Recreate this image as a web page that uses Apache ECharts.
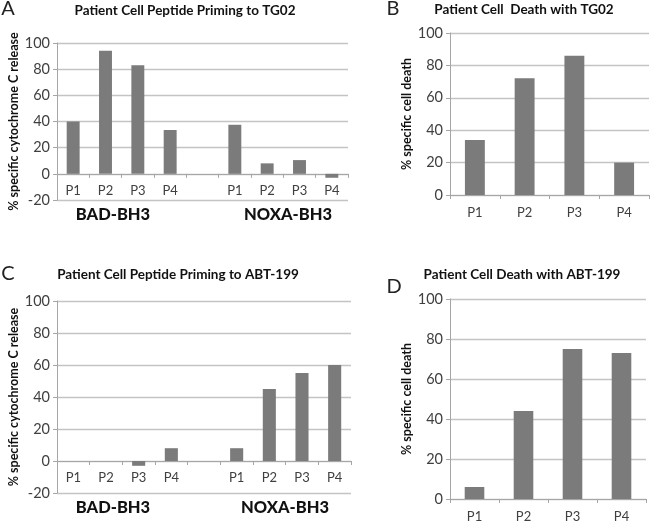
<!DOCTYPE html>
<html><head><meta charset="utf-8">
<script src="https://cdn.jsdelivr.net/npm/echarts@6/dist/echarts.min.js"></script>
<style>html,body{margin:0;padding:0;background:#fff}#c{width:650px;height:528px}</style>
</head><body><div id="c"></div>
<script>
// ---- data ----
const groupedCats = ['P1','P2','P3','P4','','P1','P2','P3','P4'];
const patientCats = ['P1','P2','P3','P4'];
const peptideGroups = ['BAD-BH3','NOXA-BH3'];
const primingTicks = [-20,0,20,40,60,80,100];
const deathTicks = [0,20,40,60,80,100];
const primingTG02 = [40,94,83,33.5,null,37.5,8,10.5,-3];
const deathTG02 = [34,72,86,20];
const primingABT = [0,0,-3,8,null,8,45,55,60];
const deathABT = [6,44,75,73];
const panelTitles = ['Patient Cell Peptide Priming to TG02','Patient Cell  Death with TG02','Patient Cell Peptide Priming to ABT-199','Patient Cell Death with ABT-199'];
const panelLetters = ['A','B','C','D'];
const yNames = ['% specific cytochrome C release','% specific cell death'];

// ---- style ----
const FONT = 'Lato, "Open Sans", sans-serif';
const BAR = '#7b7b7b';
const AXIS = '#a6a6a6';
const GRIDC = '#c4c4c4';
const TXT = '#404040';

function yAx(gi, ticks, name, gap){
  return {
    type:'value', gridIndex:gi, min:ticks[0], max:ticks[ticks.length-1], interval:20,
    name:name, nameLocation:'middle', nameGap:gap,
    nameTextStyle:{fontFamily:FONT, fontWeight:'bold', fontSize:12.5, color:'#111'},
    axisLine:{show:true, lineStyle:{color:AXIS, width:1}},
    axisTick:{show:true, length:4, lineStyle:{color:AXIS}},
    axisLabel:{fontFamily:FONT, fontSize:14.5, color:TXT, margin:7},
    splitLine:{show:true, lineStyle:{color:GRIDC, width:1.3}}
  };
}
function xAx(gi, cats, margin){
  return {
    type:'category', gridIndex:gi, data:cats, boundaryGap:true, position:'bottom', offset:0,
    axisLine:{show:true, onZero:false, lineStyle:{color:AXIS, width:1}},
    axisTick:{show:true, length:4, interval:0, lineStyle:{color:AXIS}},
    axisLabel:{fontFamily:FONT, fontSize:13, color:TXT, margin:margin, interval:0}
  };
}
function bars(i, data){
  return {type:'bar', xAxisIndex:i, yAxisIndex:i, data:data, barWidth:'40%',
    itemStyle:{color:BAR}, silent:true, animation:false};
}
function txt(x,y,t,size,weight,color){
  return {type:'text', x:x, y:y, style:{text:t, fontFamily:FONT, fontSize:size, fontWeight:weight,
    fill:color||'#111', textAlign:'center', textVerticalAlign:'middle'}};
}

const chart = echarts.init(document.getElementById('c'), null, {renderer:'canvas'});
const xAxes = [xAx(0,groupedCats,10), xAx(1,patientCats,11), xAx(2,groupedCats,10), xAx(3,patientCats,11)];
chart.setOption({
  animation:false,
  grid:[
    {left:57, top:43, right:302, bottom:328},
    {left:450, top:33, right:1, bottom:333},
    {left:57, top:301, right:299, bottom:35},
    {left:450, top:299, right:4, bottom:29}
  ],
  xAxis:xAxes,
  yAxis:[yAx(0,primingTicks,yNames[0],30), yAx(1,deathTicks,yNames[1],32), yAx(2,primingTicks,yNames[0],30), yAx(3,deathTicks,yNames[1],32)],
  series:[bars(0,primingTG02), bars(1,deathTG02), bars(2,primingABT), bars(3,deathABT)],
  graphic:[
    txt(185,11,panelTitles[0],13.5,'bold'),
    txt(524,10,panelTitles[1],13.5,'bold'),
    txt(178,275,panelTitles[2],13.5,'bold'),
    txt(522,275,panelTitles[3],13.5,'bold'),
    txt(8,9,panelLetters[0],20,'normal','#222'),
    txt(393,9,panelLetters[1],20,'normal','#222'),
    txt(8,274,panelLetters[2],20,'normal','#222'),
    txt(394,287,panelLetters[3],20,'normal','#222'),
    txt(113,215,peptideGroups[0],16.5,'900'),
    txt(288,215,peptideGroups[1],16.5,'900'),
    txt(113,508,peptideGroups[0],16.5,'900'),
    txt(285,508,peptideGroups[1],16.5,'900')
  ]
});
// move the category axes of the priming panels up to the value 0 line
[0,2].forEach(function(i){
  const zeroY = chart.convertToPixel({yAxisIndex:i}, 0);
  const minY = chart.convertToPixel({yAxisIndex:i}, primingTicks[0]);
  xAxes[i].offset = zeroY - minY;
});
chart.setOption({xAxis:xAxes});
</script></body></html>
